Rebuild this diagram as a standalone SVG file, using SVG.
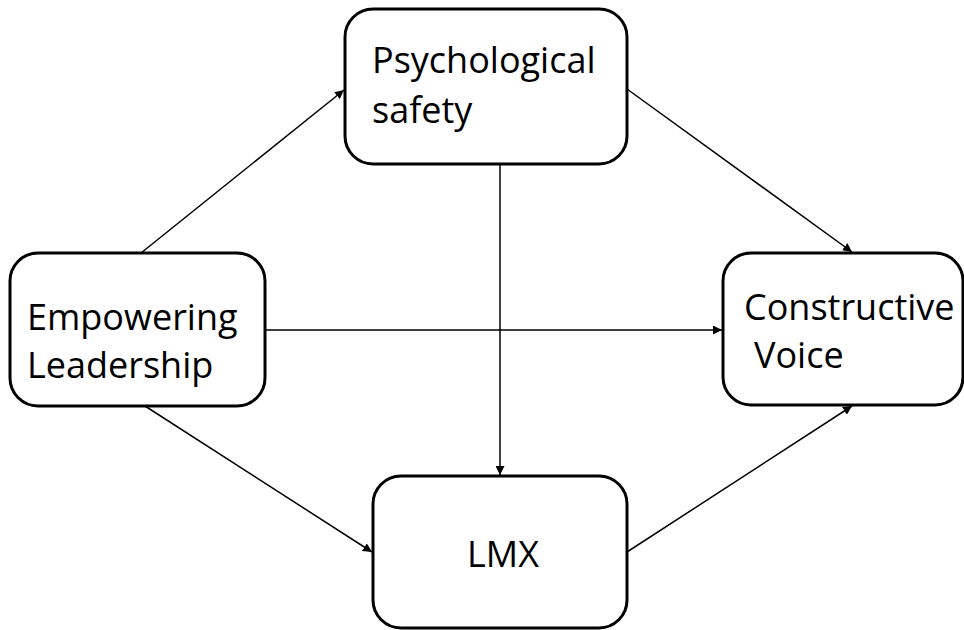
<svg xmlns="http://www.w3.org/2000/svg" width="964" height="630" viewBox="0 0 964 630">
<style>
.box{fill:#fff;stroke:#000;stroke-width:3}
.lbl{font-family:"Open Sans",Lato,"Liberation Sans",sans-serif;font-size:36px;fill:#000}
.edge{stroke:#000;stroke-width:1.5;fill:none;marker-end:url(#arr)}
</style>
<defs>
<marker id="arr" viewBox="0 0 10 10" refX="10" refY="5" markerWidth="9" markerHeight="9" markerUnits="userSpaceOnUse" orient="auto">
<path d="M0,0 L10,5 L0,10 z" fill="#000"/>
</marker>
</defs>
<rect width="964" height="630" fill="#fff"/>
<g id="connectors">
<line class="edge" x1="141" y1="253" x2="344" y2="90"/>
<line class="edge" x1="627" y1="89" x2="852" y2="252"/>
<line class="edge" x1="500" y1="164" x2="500" y2="475"/>
<line class="edge" x1="265" y1="330" x2="722" y2="330"/>
<line class="edge" x1="145" y1="406" x2="372" y2="552"/>
<line class="edge" x1="627" y1="552" x2="852" y2="406"/>
</g>
<g id="psych">
<rect class="box" x="345" y="9" width="282" height="155" rx="28"/>
<text class="lbl" x="372" y="73">Psychological</text>
<text class="lbl" x="372" y="123">safety</text>
</g>
<g id="empower">
<rect class="box" x="10" y="253" width="255" height="153" rx="28"/>
<text class="lbl" x="27" y="330">Empowering</text>
<text class="lbl" x="27" y="378">Leadership</text>
</g>
<g id="voice">
<rect class="box" x="723" y="253" width="240" height="152" rx="28"/>
<text class="lbl" x="744" y="320">Constructive</text>
<text class="lbl" x="754" y="368">Voice</text>
</g>
<g id="lmx">
<rect class="box" x="373" y="476" width="254" height="152" rx="28"/>
<text class="lbl" x="467" y="567">LMX</text>
</g>
</svg>
